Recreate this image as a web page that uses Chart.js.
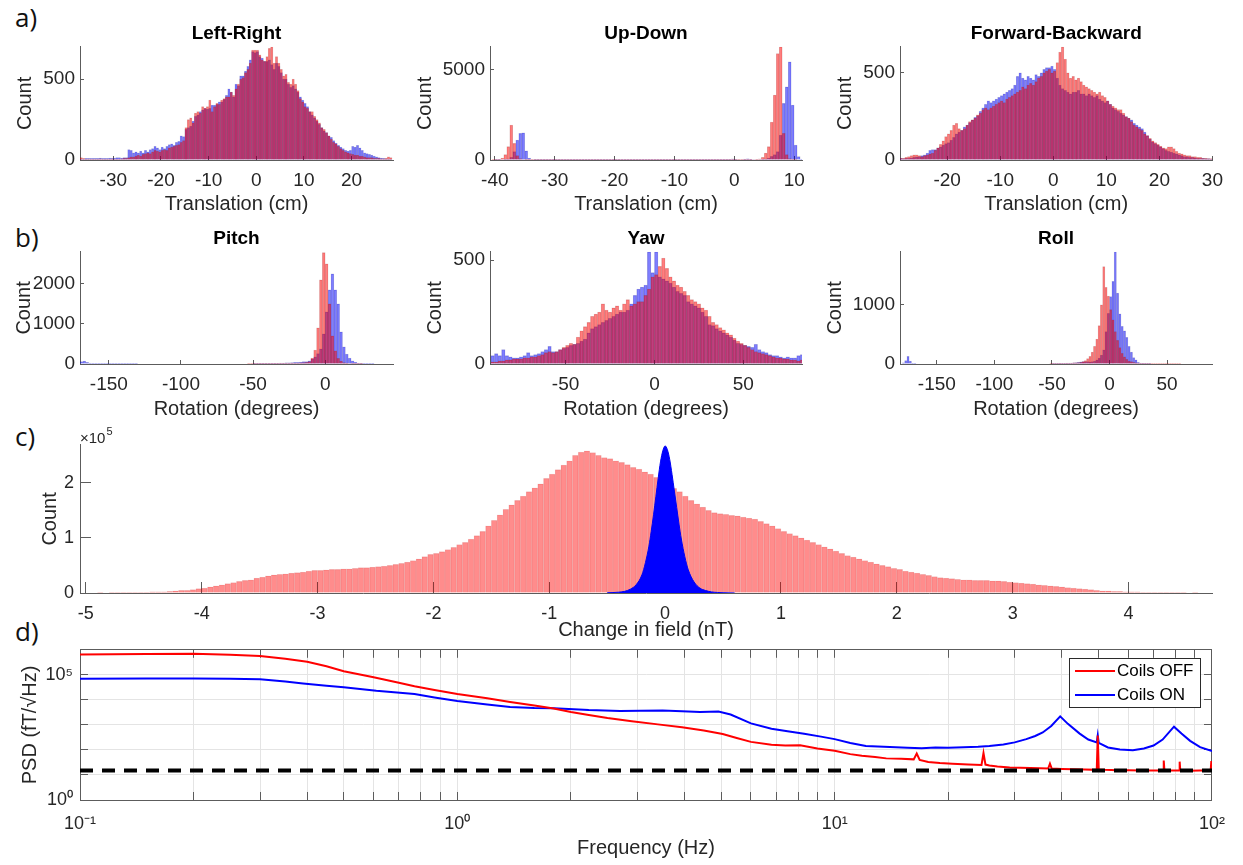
<!DOCTYPE html>
<html>
<head>
<meta charset="utf-8">
<title>Head motion and field change</title>
<script src="https://cdn.jsdelivr.net/npm/chart.js@4.4.0/dist/chart.umd.min.js"></script>
<style>
  html, body { margin: 0; padding: 0; background: #fff; }
  #fig { position: relative; width: 1243px; height: 865px; overflow: hidden; background: #fff; }
  #fig canvas { position: absolute; }
  .tag { position: absolute; font-family: 'Open Sans', sans-serif; font-size: 26px; color: #111; line-height: 1; }
</style>
</head>
<body>
<div id="fig">
  <div class="tag" style="left:15px;top:4px">a)</div>
  <div class="tag" style="left:15px;top:224px">b)</div>
  <div class="tag" style="left:15px;top:423px">c)</div>
  <div class="tag" style="left:15px;top:618px">d)</div>
</div>
<script>
// ---------- a) translation histograms, 0.5 cm bins (red = coils off, blue = coils on) ----------
const lrStart = -37, lrWidth = 0.5;
const lrRed = [15,10,5,5,5,5,5,5,8,5, 5,5,5,8,5,5,5,8,10,10,
  15,20,20,25,
  30,25,35,40,45,40,50,60,55,50,
  60,65,60,75,80,85,90,95,110,120,
  200,250,260,230,290,300,
  290,330,320,330,370,300,
  330,350,345,370,380,390,
  390,420,400,440,470,500,
  510,540,560,600,680,680,
  680,650,620,610,640,690,
  700,600,640,600,560,520,
  530,480,470,500,470,430,
  380,360,330,320,300,300,
  270,250,230,200,190,170,
  150,130,110,100,85,70,
  60,50,45,40,35,30,
  30,25,25,20,15,15,
  15,10,10,10,8,8,10,20,15];
const lrBlue = [5,5,10,10,10,10,10,10,12,10, 10,10,12,10,12,15,15,12,15,15,
  65,60,45,50,
  45,55,45,60,50,65,70,85,75,65,
  80,70,85,95,100,90,110,115,150,145,
  190,200,210,240,270,280,
  300,310,320,315,320,340,
  340,345,360,360,375,400,
  440,420,390,470,460,520,
  520,550,580,620,670,665,
  670,640,630,610,610,620,
  590,560,600,580,540,500,
  500,470,450,460,440,420,
  390,370,350,330,300,280,
  260,240,220,200,180,170,
  150,140,120,105,90,80,
  70,60,55,60,85,80,
  90,75,60,45,40,35,
  30,25,20,15,12,10,8,5,5];
const lrTicks = [-30, -20, -10, 0, 10, 20];

const udStart = -41, udWidth = 0.5;
const udRed = [0,10,20,40,100,300,735,1930,920,250,
  80,30,15,10,10,10,10,10,10,10,
  10,10,10,10,10,10,10,10,10,10,
  10,10,10,10,10,10,10,10,10,10,
  10,10,10,10,10,10,10,10,10,10,
  10,10,10,10,10,10,10,10,10,10,
  10,10,10,10,10,10,10,10,10,10,
  10,10,10,10,10,10,10,10,10,10,
  15,15,15,15,15,15,20,20,30,40,
  60,150,380,735,2100,3580,5880,6250,1470,300,
  80,20,10,0,0];
const udBlue = [0,0,10,20,30,40,60,150,460,1100,
  1470,1500,500,100,30,10,10,10,10,10,
  10,10,10,10,10,10,10,10,10,10,
  10,10,10,10,10,10,10,10,10,10,
  10,10,10,10,10,10,10,10,10,10,
  10,10,10,10,10,10,10,10,10,10,
  10,10,10,10,10,10,10,10,10,10,
  10,10,10,10,10,10,10,10,10,10,
  40,60,40,30,30,50,70,40,30,30,
  30,40,60,100,200,300,460,1380,3125,4040,
  5420,3030,830,185,50];
const udTicks = [-40, -30, -20, -10, 0, 10];

const fbStart = -29, fbWidth = 0.5;
const fbRed = [10,10,15,20,25,30,
  30,25,20,25,30,35,
  40,55,70,90,110,135,
  150,170,200,210,180,170,
  180,200,220,230,240,260,
  270,290,300,290,300,310,
  320,330,340,330,350,360,
  370,380,390,400,420,410,
  430,440,430,450,470,480,
  500,510,520,500,510,560,
  620,650,580,500,470,480,
  460,470,450,430,420,410,
  400,390,380,390,370,360,
  340,320,310,300,290,290,
  270,250,240,220,200,190,
  180,170,150,140,125,110,
  100,90,80,70,65,75,
  75,65,50,40,35,30,
  25,25,20,20,15,15,
  10,10,8,8];
const fbBlue = [10,8,10,10,12,15,
  18,20,25,30,40,55,
  60,60,70,75,85,95,
  100,115,130,150,160,170,
  190,200,215,230,245,255,
  280,300,320,340,330,340,
  350,360,370,380,390,400,
  410,430,480,500,470,460,
  480,470,460,490,480,500,
  520,530,530,540,520,470,
  430,410,400,390,380,390,
  390,400,380,380,370,380,
  370,360,370,350,340,330,
  340,320,300,290,280,270,
  260,250,240,230,210,200,
  190,180,160,140,120,105,
  95,85,75,65,55,50,
  45,40,35,30,25,20,
  20,15,15,12,10,10,
  10,8,8,5];
const fbTicks = [-20, -10, 0, 10, 20, 30];

// ---------- b) rotation histograms, 2 degree bins ----------
const pitchStart = -170, pitchWidth = 2;
const pitchRed = [0,0,0,0,0,0,0,0,0,0,
  0,0,0,0,0,0,0,0,0,0,
  0,0,0,0,0,0,0,0,0,0,
  0,0,0,0,0,0,0,0,0,0,
  0,0,0,0,0,0,0,0,0,0,
  0,0,0,0,0,0,0,0,5,5,
  10,10,10,10,15,15,15,15,15,20,
  20,20,20,25,25,25,30,35,40,60,
  150,350,900,2100,2780,2500,1500,700,330,140,
  70,35,20,12,8,5,5,5,0,0,
  0,0,0,0,0,0,0,0];
const pitchBlue = [60,70,40,20,10,5,5,5,5,5,
  5,5,5,5,5,5,5,5,5,5,
  0,0,0,0,0,0,0,0,0,0,
  0,0,0,0,0,0,0,0,0,0,
  0,0,0,0,0,0,0,0,0,0,
  0,0,0,0,0,0,0,0,0,0,
  5,5,10,10,10,10,15,15,15,20,
  20,30,30,35,40,40,50,60,60,80,
  130,180,260,380,750,1300,1850,2250,1850,1500,
  800,430,250,150,80,50,25,15,10,5,
  5,5,0,0,0,0,0,0];
const pitchTicks = [-150, -100, -50, 0];

const yawStart = -92, yawWidth = 2;
const yawRed = [10,10,15,15,20,20,25,25,25,30,
  30,35,35,40,45,55,60,55,60,70,
  80,90,100,95,130,160,180,200,230,240,
  250,290,260,250,270,280,260,290,310,280,
  290,300,300,330,360,420,430,470,510,460,
  420,400,380,370,350,330,310,300,290,270,
  260,230,200,190,175,165,150,140,125,110,
  100,90,80,70,60,55,50,45,40,35,
  30,30,25,25,20,20,15,20];
const yawBlue = [40,50,40,70,40,35,30,30,35,40,
  55,40,45,50,60,70,85,60,60,70,
  75,80,90,95,100,110,120,150,170,180,
  190,200,210,220,230,240,250,250,260,290,
  330,360,370,380,540,440,540,420,410,400,
  390,370,350,340,330,300,290,280,270,250,
  230,190,185,170,160,150,140,130,115,100,
  95,90,85,80,95,70,60,55,45,40,
  40,35,30,35,30,30,40,45];
const yawTicks = [-50, 0, 50];

const rollStart = -182, rollWidth = 2;
const rollRed = [0,0,0,0,0,0,0,0,0,0,
  0,0,0,0,0,0,0,0,0,0,
  0,0,0,0,0,0,0,0,0,0,
  0,0,0,0,0,0,0,0,0,0,
  0,0,0,0,0,0,0,0,0,0,
  0,0,0,0,0,0,0,0,0,0,
  0,0,0,0,0,5,5,5,10,10,
  10,10,15,15,15,20,20,25,30,40,
  60,90,130,200,300,420,650,1000,1650,1300,
  1150,920,750,550,400,280,180,120,80,50,
  40,30,20,15,10,10,10,5,5,5,
  5,5,5,5,5,5,5,5,5,5,
  5,5,0,0,0,0,0,0,0,0,
  0,0,0,0,0,0];
const rollBlue = [0,20,60,130,50,10,5,0,0,0,
  0,0,0,0,0,0,0,0,0,0,
  0,0,0,0,0,0,0,0,0,0,
  0,0,0,0,0,0,0,0,0,0,
  0,0,0,0,0,0,0,0,0,0,
  0,0,0,0,0,0,0,0,0,0,
  0,0,0,0,0,0,5,5,5,5,
  5,5,10,10,15,20,25,30,35,40,
  40,40,35,40,50,70,100,150,240,550,
  860,1140,1400,1900,1200,850,640,560,450,300,
  200,110,70,30,15,10,5,5,5,0,
  0,0,0,0,0,0,0,0,0,0,
  0,0,0,0,0,0,0,0,0,0,
  0,0,0,0,0,0];
const rollTicks = [-150, -100, -50, 0, 50];

// ---------- c) change in field, counts in units of 1e5 ----------
const fieldStart = -5.05, fieldWidth = 0.05;
const fieldOff = [0.00,0.00,0.00,0.01,0.00,0.01,0.01,0.01,0.01,0.01,
  0.01,0.01,0.02,0.02,0.02,0.03,0.04,0.05,0.05,0.06,
  0.08,0.09,0.11,0.13,0.15,0.17,0.19,0.21,0.23,0.24,
  0.27,0.29,0.31,0.33,0.34,0.35,0.36,0.37,0.38,0.40,
  0.41,0.41,0.42,0.43,0.43,0.44,0.44,0.45,0.46,0.46,
  0.47,0.48,0.49,0.50,0.52,0.54,0.56,0.59,0.62,0.66,
  0.70,0.72,0.75,0.79,0.83,0.88,0.92,0.98,1.04,1.12,
  1.22,1.32,1.42,1.52,1.60,1.68,1.76,1.84,1.91,1.98,
  2.08,2.16,2.24,2.32,2.40,2.50,2.56,2.58,2.55,2.50,
  2.46,2.44,2.40,2.37,2.33,2.28,2.25,2.20,2.16,2.10,
  2.03,1.96,1.90,1.84,1.76,1.68,1.62,1.56,1.50,1.46,
  1.44,1.43,1.41,1.40,1.38,1.36,1.34,1.30,1.26,1.22,
  1.17,1.12,1.08,1.04,1.00,0.96,0.92,0.88,0.84,0.80,
  0.76,0.72,0.68,0.65,0.62,0.59,0.56,0.53,0.50,0.48,
  0.45,0.43,0.40,0.38,0.36,0.34,0.32,0.30,0.28,0.27,
  0.26,0.25,0.24,0.24,0.23,0.23,0.23,0.22,0.22,0.21,
  0.20,0.19,0.18,0.17,0.16,0.15,0.14,0.13,0.12,0.11,
  0.10,0.09,0.08,0.07,0.06,0.05,0.04,0.04,0.03,0.03,
  0.02,0.02,0.02,0.01,0.01,0.01,0.01,0.01,0.01,0.01,
  0.01,0.00,0.01,0.00,0.00,0.00];
const fieldOnX = [-0.5,-0.45,-0.4,-0.35,-0.3,-0.25,-0.2,-0.17,-0.14,-0.12,-0.1,-0.08,-0.06,-0.04,-0.02,0,
  0.02,0.04,0.06,0.08,0.1,0.12,0.14,0.17,0.2,0.25,0.3,0.35,0.4,0.45,0.5,0.6];
const fieldOnY = [0.004,0.008,0.015,0.03,0.07,0.15,0.33,0.55,0.85,1.12,1.42,1.75,2.08,2.38,2.58,2.67,
  2.60,2.42,2.15,1.85,1.55,1.25,0.98,0.66,0.42,0.20,0.09,0.045,0.02,0.01,0.005,0.001];
const fieldTicks = [-5, -4, -3, -2, -1, 0, 1, 2, 3, 4];
const fieldYTicks = [0, 1, 2];

// ---------- d) noise spectra ----------
const offFreq = [0.1,0.15,0.2,0.25,0.3,0.35,0.4,0.45,0.5,0.6,
  0.7,0.77,0.87,1,1.2,1.38,1.6,1.8,2,2.23,
  2.5,2.9,3.4,3.94,4.5,5.05,5.5,6,6.8,7.4,
  8.1,9,10,11,11.8,12.8,13.7,15,16.2,16.5,
  16.8,17.7,19,20.5,22.6,24.5,24.8,25.1,25.7,27,
  29.1,31,33,35,36.8,37.2,37.6,40,43,46,
  49.5,49.8,50.1,52,56,60,65,70,74.2,74.5,
  74.8,78,81.8,82.1,82.4,87,93,99.2,99.6,100];
const offPsd = [6.5e5,6.8e5,6.9e5,6.4e5,5.6e5,4.4e5,3.3e5,2.2e5,1.4e5,8.0e4,
  4.8e4,3.5e4,2.5e4,1.7e4,1.15e4,8.3e3,6.0e3,4.5e3,3.3e3,2.5e3,
  1.9e3,1.4e3,1.05e3,800,600,430,300,210,160,150,
  155,115,92,68,58,52,46,44,42,72,
  40,33,30,28,26,25,75,26,24,22,
  20,19.5,19,18.5,18,28,18,17.5,17,16.5,
  16,380,16.5,16,15.5,15.5,15,15,15,38,
  15,15,15,34,15,14.8,15,15,36,36];
const onFreq = [0.1,0.15,0.2,0.25,0.3,0.35,0.39,0.45,0.5,0.61,
  0.77,0.87,1,1.2,1.38,1.6,1.8,2.23,2.7,3.06,
  3.5,3.94,4.4,4.92,5.3,6,6.8,7.5,8.3,9.2,
  10,11,12.1,13.5,15.6,17,18.5,20,22,24,
  25.7,28,30,32.2,34,35.6,37.5,39.6,41.5,44.6,
  47,49.5,49.8,50.1,53,57,61.7,66,70,74,
  79.3,83,87.5,93,100];
const onPsd = [6.9e4,7.1e4,7.2e4,7.0e4,6.6e4,5.4e4,4.5e4,3.7e4,3.2e4,2.3e4,
  1.7e4,1.25e4,9.1e3,6.5e3,5.2e3,4.7e3,4.6e3,3.9e3,3.6e3,3.7e3,
  3.8e3,3.5e3,3.3e3,3.4e3,2.6e3,1.15e3,700,560,440,340,
  270,190,145,135,122,118,125,122,128,135,
  145,165,200,270,360,500,900,2200,1100,450,
  260,200,380,190,125,105,98,115,150,260,
  850,450,230,130,90];
const floorFreq = [0.1, 100];
const floorPsd = [15.2, 15.2];
const freqTicks = [0.1,0.2,0.3,0.4,0.5,0.6,0.7,0.8,0.9,1,2,3,4,5,6,7,8,9,10,20,30,40,50,60,70,80,90,100];
const freqLabels = { 0.1: '10⁻¹', 1: '10⁰', 10: '10¹', 100: '10²' };
const psdTicks = [1, 10, 100, 1000, 1e4, 1e5];
const psdLabels = { 1: '10⁰', 100000: '10⁵' };

// ---------- drawing ----------
const AXIS = '#5c5c5c';
const TXT = '#262626';
const GRID = '#e4e4e4';
Chart.defaults.font.family = "'Liberation Sans', Arial, sans-serif";
Chart.defaults.color = TXT;

const binPoints = (start, width, counts) => counts.map((c, i) => ({ x: start + width * (i + 0.5), y: c }));
const pairs = (xs, ys) => xs.map((x, i) => ({ x: x, y: ys[i] }));
const fixed = values => s => { s.ticks = values.map(v => ({ value: v })); };

function bottomAxis(o) {
  return {
    type: o.type || 'linear', position: 'bottom', min: o.min, max: o.max, offset: false,
    z: o.z === undefined ? 1 : o.z,
    afterBuildTicks: fixed(o.ticks),
    afterFit: s => { s.height = o.size; },
    ticks: { autoSkip: false, maxRotation: 0, minRotation: 0, padding: o.pad, color: TXT,
             font: { size: o.font }, callback: o.label || (v => String(v)) },
    grid: { offset: false, drawOnChartArea: !!o.grid, color: GRID, drawTicks: true,
            tickLength: -o.tick, tickColor: AXIS, tickWidth: 1 },
    border: { display: true, color: AXIS, width: 1 },
    title: { display: true, text: o.title, color: TXT, font: { size: 20 }, padding: 0 }
  };
}

function leftAxis(o) {
  return {
    type: o.type || 'linear', position: 'left', min: o.min, max: o.max,
    z: o.z === undefined ? 1 : o.z,
    afterBuildTicks: fixed(o.ticks),
    afterFit: s => { s.width = o.size; },
    ticks: { autoSkip: false, padding: o.pad, color: TXT, font: { size: o.font },
             callback: o.label || (v => String(v)) },
    grid: { drawOnChartArea: !!o.grid, color: GRID, drawTicks: true,
            tickLength: -o.tick, tickColor: AXIS, tickWidth: 1 },
    border: { display: true, color: AXIS, width: 1 },
    title: { display: true, text: o.title, color: TXT, font: { size: 20 }, padding: 0 }
  };
}

const baseOptions = () => ({
  responsive: false, animation: false, events: [], devicePixelRatio: 1,
  datasets: { bar: { grouped: false, barPercentage: 1, categoryPercentage: 1, borderSkipped: 'start' } },
  plugins: { legend: { display: false }, tooltip: { enabled: false } }
});

function histogram(h) {
  return () => {
    const options = baseOptions();
    options.layout = { padding: { top: 2, right: 20, bottom: 0, left: 0 } };
    options.plugins.title = { display: true, text: h.title, fullSize: false, color: '#000',
      font: { size: 19, weight: 'bold' }, padding: { top: 0, bottom: 2 } };
    options.scales = {
      x: bottomAxis({ min: h.xMin, max: h.xMax, ticks: h.xTicks, size: h.xSize, pad: 13, font: 19, tick: 4, title: h.xTitle }),
      y: leftAxis({ min: 0, max: h.yMax, ticks: h.yTicks, size: h.ySize, pad: 9, font: 19, tick: 4, title: 'Count' })
    };
    return {
      type: 'bar',
      data: { datasets: [
        { data: binPoints(h.start, h.width, h.red), backgroundColor: 'rgba(255,0,0,0.5)',
          borderColor: 'rgba(110,0,0,0.22)', borderWidth: 0.5 },
        { data: binPoints(h.start, h.width, h.blue), backgroundColor: 'rgba(0,0,255,0.5)',
          borderColor: 'rgba(0,0,110,0.22)', borderWidth: 0.5 }
      ] },
      options: options
    };
  };
}

// "×10^5" multiplier over the count axis of panel c
const exponentLabel = {
  id: 'exponentLabel',
  afterDraw(chart) {
    const { ctx, chartArea } = chart;
    ctx.save();
    ctx.fillStyle = TXT;
    ctx.textBaseline = 'alphabetic';
    ctx.font = "15px 'Liberation Sans', Arial, sans-serif";
    ctx.fillText('×10', chartArea.left, chartArea.top - 2);
    const w = ctx.measureText('×10').width;
    ctx.font = "11px 'Liberation Sans', Arial, sans-serif";
    ctx.fillText('5', chartArea.left + w + 1, chartArea.top - 10);
    ctx.restore();
  }
};

// boxed legend inside the spectrum axes
const psdLegend = {
  id: 'psdLegend',
  afterDatasetsDraw(chart) {
    const { ctx, chartArea: a } = chart;
    const items = chart.data.datasets.filter(d => d.label);
    const w = 131, h = 49, x = Math.round(a.right - 12 - w), y = Math.round(a.top + 8);
    ctx.save();
    ctx.fillStyle = '#fff';
    ctx.fillRect(x, y, w, h);
    ctx.strokeStyle = '#2a2a2a';
    ctx.lineWidth = 1;
    ctx.strokeRect(x + 0.5, y + 0.5, w, h);
    ctx.font = "17px 'Liberation Sans', Arial, sans-serif";
    ctx.textBaseline = 'middle';
    items.forEach((d, i) => {
      const ly = y + 13 + i * 24;
      ctx.strokeStyle = d.borderColor;
      ctx.lineWidth = 2;
      ctx.beginPath();
      ctx.moveTo(x + 6, ly);
      ctx.lineTo(x + 46, ly);
      ctx.stroke();
      ctx.fillStyle = '#000';
      ctx.fillText(d.label, x + 48, ly);
    });
    ctx.restore();
  }
};

const fieldConfig = () => {
  const options = baseOptions();
  options.layout = { padding: { top: 16, right: 20, bottom: 0, left: 0 } };
  options.scales = {
    x: bottomAxis({ min: -5.05, max: 4.72, ticks: fieldTicks, size: 49, pad: 21, font: 18, tick: 11, title: 'Change in field (nT)' }),
    y: leftAxis({ min: 0, max: 2.69, ticks: fieldYTicks, size: 42, pad: 17, font: 18, tick: 11, title: 'Count' })
  };
  return {
    type: 'bar',
    data: { datasets: [
      { type: 'line', data: pairs(fieldOnX, fieldOnY), borderColor: '#0000f5', backgroundColor: '#0000ff',
        borderWidth: 1, pointRadius: 0, fill: 'origin', cubicInterpolationMode: 'monotone' },
      { type: 'bar', data: binPoints(fieldStart, fieldWidth, fieldOff), backgroundColor: 'rgba(255,0,0,0.45)',
        borderColor: 'rgba(150,0,0,0.12)', borderWidth: 0.5 }
    ] },
    options: options,
    plugins: [exponentLabel]
  };
};

const psdConfig = () => {
  const options = baseOptions();
  options.layout = { padding: { top: 14, right: 20, bottom: 0, left: 0 } };
  options.scales = {
    x: bottomAxis({ type: 'logarithmic', min: 0.1, max: 100, ticks: freqTicks, size: 60, pad: 21, font: 18, tick: 8,
                    title: 'Frequency (Hz)', grid: true, z: 0, label: v => freqLabels[v] || '' }),
    y: leftAxis({ type: 'logarithmic', min: 1, max: 1e6, ticks: psdTicks, size: 62, pad: 15, font: 18, tick: 8,
                  title: 'PSD (fT/√Hz)', grid: true, z: 0, label: v => psdLabels[v] || '' }),
    xTop: { type: 'logarithmic', position: 'top', min: 0.1, max: 100, z: 1,
            afterBuildTicks: fixed(freqTicks), afterFit: s => { s.height = 0; },
            ticks: { display: false }, grid: { drawOnChartArea: false, tickLength: -8, tickColor: AXIS },
            border: { display: true, color: AXIS, width: 1 } },
    yRight: { type: 'logarithmic', position: 'right', min: 1, max: 1e6, z: 1,
              afterBuildTicks: fixed(psdTicks), afterFit: s => { s.width = 0; },
              ticks: { display: false }, grid: { drawOnChartArea: false, tickLength: -8, tickColor: AXIS },
              border: { display: true, color: AXIS, width: 1 } }
  };
  return {
    type: 'line',
    data: { datasets: [
      { data: pairs(floorFreq, floorPsd), xAxisID: 'x', yAxisID: 'y', borderColor: '#000',
        borderWidth: 4, borderDash: [13, 9], pointRadius: 0 },
      { label: 'Coils OFF', data: pairs(offFreq, offPsd), xAxisID: 'x', yAxisID: 'y',
        borderColor: '#ff0000', borderWidth: 2, pointRadius: 0 },
      { label: 'Coils ON', data: pairs(onFreq, onPsd), xAxisID: 'x', yAxisID: 'y',
        borderColor: '#0000ff', borderWidth: 2, pointRadius: 0 }
    ] },
    options: options,
    plugins: [psdLegend]
  };
};

// size each canvas so its plot area lands on the given box
function place(makeConfig, box) {
  const cv = document.createElement('canvas');
  document.getElementById('fig').appendChild(cv);
  let w = box.r - box.l + 100, h = box.b - box.t + 90;
  let chart = null;
  for (let k = 0; k < 5; k++) {
    if (chart) chart.destroy();
    cv.width = w; cv.height = h;
    cv.style.width = w + 'px'; cv.style.height = h + 'px';
    chart = new Chart(cv, makeConfig());
    const a = chart.chartArea;
    const dw = Math.round((box.r - box.l) - (a.right - a.left));
    const dh = Math.round((box.b - box.t) - (a.bottom - a.top));
    if (!dw && !dh) break;
    w += dw; h += dh;
  }
  const a = chart.chartArea;
  cv.style.left = Math.round(box.l - a.left) + 'px';
  cv.style.top = Math.round(box.t - a.top) + 'px';
  return chart;
}

place(histogram({ title: 'Left-Right', start: lrStart, width: lrWidth, red: lrRed, blue: lrBlue,
  xMin: -37, xMax: 28.7, xTicks: lrTicks, yMax: 700, yTicks: [0, 500], xSize: 56, ySize: 67,
  xTitle: 'Translation (cm)' }), { l: 80, r: 393, t: 47, b: 160 });
place(histogram({ title: 'Up-Down', start: udStart, width: udWidth, red: udRed, blue: udBlue,
  xMin: -40.8, xMax: 11.3, xTicks: udTicks, yMax: 6250, yTicks: [0, 5000], xSize: 56, ySize: 77,
  xTitle: 'Translation (cm)' }), { l: 490, r: 802, t: 47, b: 160 });
place(histogram({ title: 'Forward-Backward', start: fbStart, width: fbWidth, red: fbRed, blue: fbBlue,
  xMin: -28.9, xMax: 30, xTicks: fbTicks, yMax: 650, yTicks: [0, 500], xSize: 56, ySize: 67,
  xTitle: 'Translation (cm)' }), { l: 900, r: 1212, t: 47, b: 160 });

place(histogram({ title: 'Pitch', start: pitchStart, width: pitchWidth, red: pitchRed, blue: pitchBlue,
  xMin: -170, xMax: 47, xTicks: pitchTicks, yMax: 2800, yTicks: [0, 1000, 2000], xSize: 57, ySize: 68,
  xTitle: 'Rotation (degrees)' }), { l: 80, r: 393, t: 252, b: 364 });
place(histogram({ title: 'Yaw', start: yawStart, width: yawWidth, red: yawRed, blue: yawBlue,
  xMin: -92.5, xMax: 83, xTicks: yawTicks, yMax: 540, yTicks: [0, 500], xSize: 57, ySize: 67,
  xTitle: 'Rotation (degrees)' }), { l: 490, r: 802, t: 252, b: 364 });
place(histogram({ title: 'Roll', start: rollStart, width: rollWidth, red: rollRed, blue: rollBlue,
  xMin: -182, xMax: 89, xTicks: rollTicks, yMax: 1900, yTicks: [0, 1000], xSize: 57, ySize: 77,
  xTitle: 'Rotation (degrees)' }), { l: 900, r: 1212, t: 252, b: 364 });

place(fieldConfig, { l: 80, r: 1212, t: 445, b: 593 });
place(psdConfig, { l: 80, r: 1212, t: 650, b: 800 });
</script>
</body>
</html>
